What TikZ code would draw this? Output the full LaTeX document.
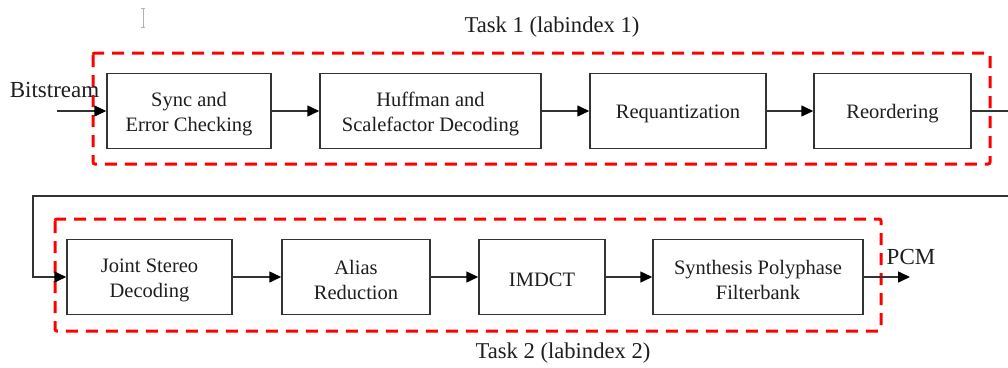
\documentclass[tikz,border=0pt]{standalone}
\usepackage{fontspec}
\setmainfont{Liberation Serif}
\usetikzlibrary{arrows.meta}
\definecolor{txt}{HTML}{1E1E1E}
\definecolor{ln}{HTML}{333333}
\definecolor{redd}{HTML}{FF0000}
\tikzset{
  blk/.style={draw=ln, line width=1.5pt, fill=white, inner sep=0pt, minimum height=75pt},
  btext/.style={align=center, text=txt, inner sep=0pt, yshift=-3pt, font=\fontsize{20.5}{25}\selectfont},
  conn/.style={draw=ln, line width=1.5pt, -{Triangle[length=12pt,width=11pt,black]}},
  taskbox/.style={draw=redd, line width=3pt, dash pattern=on 12pt off 8pt, rounded corners=2pt},
  lbl/.style={text=txt, inner sep=0pt, font=\fontsize{22.6}{27}\selectfont},
  io/.style={text=txt, inner sep=0pt, font=\fontsize{23}{27}\selectfont}
}
\begin{document}
\begin{tikzpicture}[x=1pt,y=-1pt]
\useasboundingbox (0,0) rectangle (1008,367);
\clip (0,0) rectangle (1008,367);
\fill[white] (0,0) rectangle (1008,367);
% cursor mark
\draw[gray!60, line width=0.8pt] (143,8) -- (143,27) (141,8) -- (145,8) (141,27) -- (145,27);
% task boxes
\draw[taskbox] (93,53) rectangle (990,164);
\draw[taskbox] (55,219) rectangle (881,331);
\node[lbl] (t1) at (552,27) {Task 1 (labindex 1)};
\node[lbl] (t2) at (563,353) {Task 2 (labindex 2)};
% blocks
\node[blk, minimum width=164pt] (sync) at (189,111) {};
\node[blk, minimum width=221pt] (huff) at (430.5,111) {};
\node[blk, minimum width=176pt] (req) at (678,111) {};
\node[blk, minimum width=157pt] (reo) at (892.5,111) {};
\node[blk, minimum width=165pt] (joint) at (149.5,277) {};
\node[blk, minimum width=148pt] (alias) at (356,277) {};
\node[blk, minimum width=126pt] (imdct) at (542,277) {};
\node[blk, minimum width=210pt] (synth) at (758,277) {};
% block texts
\node[btext] (synct) at (sync) {Sync and\\Error Checking};
\node[btext] (hufft) at (huff) {Huffman and\\Scalefactor Decoding};
\node[btext] (reqt) at (req) {Requantization};
\node[btext] (reot) at (reo) {Reordering};
\node[btext] (jointt) at (joint) {Joint Stereo\\Decoding};
\node[btext] (aliast) at (alias) {Alias\\Reduction};
\node[btext] (imdctt) at (imdct) {IMDCT};
\node[btext] (syntht) at (synth) {Synthesis Polyphase\\Filterbank};
% io labels
\node[io] (bs) at (54.5,90) {Bitstream};
\node[io] (pcm) at (911,257) {PCM};
\coordinate (bsin) at (57,111);
\coordinate (r1) at (1015,111);
\coordinate (l1) at (33,196);
\coordinate (pcmout) at (910,277);
% connectors
\draw[conn] (bsin) -- (sync.west);
\draw[conn] (sync.east) -- (huff.west);
\draw[conn] (huff.east) -- (req.west);
\draw[conn] (req.east) -- (reo.west);
\draw[conn] (reo.east) -- (r1) |- (l1) |- (joint.west);
\draw[conn] (joint.east) -- (alias.west);
\draw[conn] (alias.east) -- (imdct.west);
\draw[conn] (imdct.east) -- (synth.west);
\draw[conn] (synth.east) -- (pcmout);
\end{tikzpicture}
\end{document}
